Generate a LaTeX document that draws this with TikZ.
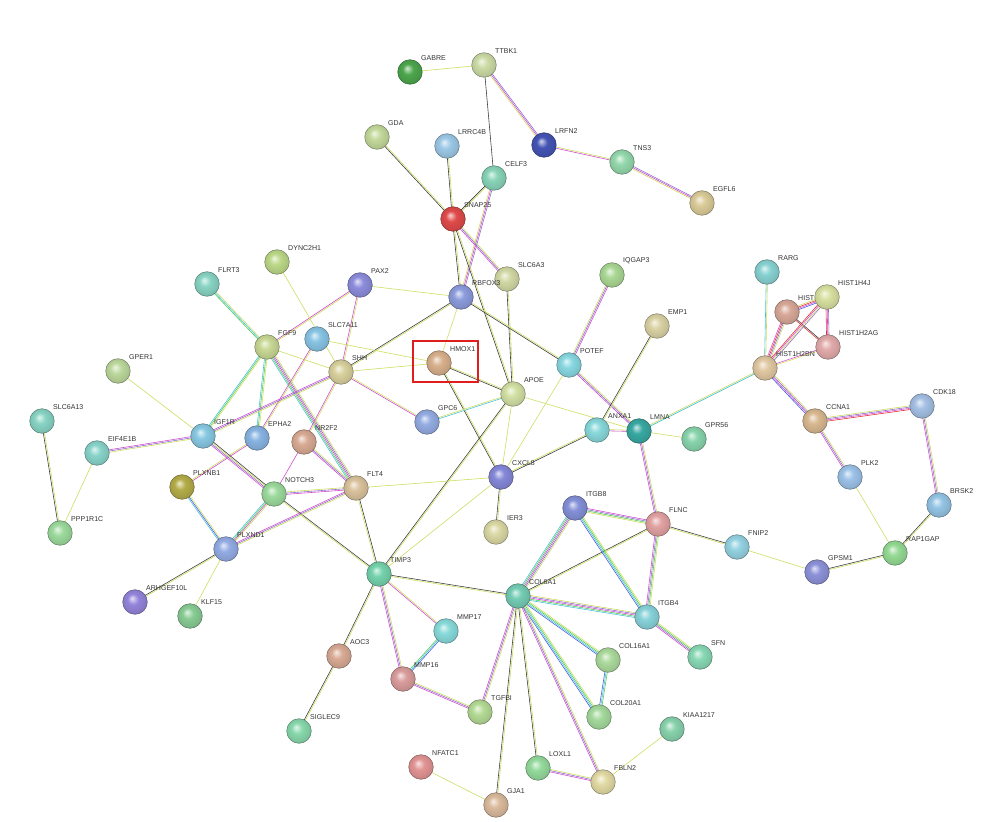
\documentclass[tikz,border=0pt]{standalone}
\usepackage{fontspec}
\newfontfamily\lf{Liberation Sans}
\usetikzlibrary{calc}
\pgfdeclarelayer{background}
\pgfsetlayers{background,main}
\colorlet{sb}{white}
\pgfdeclareradialshading[sb]{sball}{\pgfpoint{-6bp}{8bp}}{color(0bp)=(sb!25!white); color(11bp)=(sb); color(24bp)=(sb!90!black); color(36bp)=(sb!65!black)}
\definecolor{ctm}{RGB}{205,222,95}
\definecolor{cco}{RGB}{60,60,60}
\definecolor{cex}{RGB}{210,75,210}
\definecolor{cho}{RGB}{145,110,205}
\definecolor{cdb}{RGB}{70,195,220}
\definecolor{cnb}{RGB}{80,205,80}
\definecolor{cfu}{RGB}{225,50,50}
\definecolor{ccc}{RGB}{70,90,225}
\definecolor{boxred}{RGB}{225,30,30}
\tikzset{
  sphere/.style={circle, minimum size=21pt, inner sep=0pt, shade, shading=sball,
    /utils/exec={\definecolor{sb}{HTML}{#1}}, draw=sb!55!black, line width=0.35pt},
  lab/.style={anchor=west, inner sep=0pt, font=\lf\fontsize{6}{7}\selectfont, text=black!80},
  edge/.style={line width=0.5pt}
}
\newcommand\N[4]{\node[sphere=#4] (#1) at (#2) {};
  \node[lab] (#1-l) at ($(#1.center)+(11,-14)$) {#3};}
\newcommand\E[3]{%
  \foreach \cc [count=\ii] in {#3} {\xdef\nE{\ii}}%
  \foreach \cc [count=\ii] in {#3} {%
    \pgfmathsetmacro\off{(\ii-(\nE+1)/2)*1.05}%
    \draw[draw=\cc, edge] ($(#1.center)!\off pt!90:(#2.center)$) -- ($(#2.center)!\off pt!-90:(#1.center)$);
  }}
\begin{document}
\begin{tikzpicture}[x=0.03cm, y=-0.03cm]
\useasboundingbox (0,0) rectangle (1000,822);
% nodes
\N{GABRE}{410,72}{GABRE}{4CA64C}
\N{TTBK1}{484,65}{TTBK1}{CCDBA6}
\N{GDA}{377,137}{GDA}{C3D99A}
\N{LRRC4B}{447,146}{LRRC4B}{9CC8E6}
\N{LRFN2}{544,145}{LRFN2}{4454B4}
\N{CELF3}{494,178}{CELF3}{88D4B8}
\N{TNS3}{622,162}{TNS3}{94D8AC}
\N{EGFL6}{702,203}{EGFL6}{DACB98}
\N{SNAP25}{453,219}{SNAP25}{E04A4A}
\N{DYNC2H1}{277,262}{DYNC2H1}{BCD888}
\N{RARG}{767,272}{RARG}{88D2D2}
\N{FLRT3}{207,284}{FLRT3}{88D4C4}
\N{PAX2}{360,285}{PAX2}{8C8CDC}
\N{SLC6A3}{507,279}{SLC6A3}{D2D8A4}
\N{IQGAP3}{612,275}{IQGAP3}{AAD894}
\N{RBFOX3}{461,297}{RBFOX3}{8C9CDC}
\N{HIST1H4J}{827,297}{HIST1H4J}{D8E0A0}
\N{HIST}{787,312}{HIST}{D8A898}
\N{EMP1}{657,326}{EMP1}{DAD2A4}
\N{HIST1H2AG}{828,347}{HIST1H2AG}{E2AAAA}
\N{FGF9}{267,347}{FGF9}{C8D894}
\N{SLC7A11}{317,339}{SLC7A11}{88C4E4}
\N{HIST1H2BN}{765,368}{HIST1H2BN}{E0C8A2}
\N{POTEF}{569,365}{POTEF}{88D8E2}
\N{HMOX1}{439,363}{HMOX1}{D8B08C}
\N{SHH}{341,372}{SHH}{D8D09C}
\N{GPER1}{118,371}{GPER1}{BCD89C}
\N{APOE}{513,394}{APOE}{D2E0A4}
\N{CDK18}{922,406}{CDK18}{A4C0E4}
\N{CCNA1}{815,421}{CCNA1}{D8B890}
\N{SLC6A13}{42,421}{SLC6A13}{88D4C4}
\N{GPC6}{427,422}{GPC6}{94ACE2}
\N{ANXA1}{597,430}{ANXA1}{88D8DA}
\N{LMNA}{639,431}{LMNA}{38A8A2}
\N{GPR56}{694,439}{GPR56}{88D4AC}
\N{IGF1R}{203,436}{IGF1R}{88C8E2}
\N{EPHA2}{257,438}{EPHA2}{88B4E2}
\N{NR2F2}{304,442}{NR2F2}{D8AA94}
\N{EIF4E1B}{97,453}{EIF4E1B}{88D4CA}
\N{CXCL8}{501,477}{CXCL8}{8488D8}
\N{PLK2}{850,477}{PLK2}{9CC2E8}
\N{PLXNB1}{182,487}{PLXNB1}{B4AC48}
\N{FLT4}{356,488}{FLT4}{DAC29C}
\N{NOTCH3}{274,494}{NOTCH3}{9CDA9C}
\N{ITGB8}{575,508}{ITGB8}{8490D8}
\N{BRSK2}{939,505}{BRSK2}{94C4E4}
\N{FLNC}{658,524}{FLNC}{E2A2A2}
\N{IER3}{496,532}{IER3}{DAD8A4}
\N{PPP1R1C}{60,533}{PPP1R1C}{9CDA9C}
\N{FNIP2}{737,547}{FNIP2}{94D2E2}
\N{PLXND1}{226,549}{PLXND1}{94ACE4}
\N{RAP1GAP}{895,553}{RAP1GAP}{94DA94}
\N{GPSM1}{817,572}{GPSM1}{8C92D8}
\N{TIMP3}{379,574}{TIMP3}{74D2AC}
\N{COL6A1}{518,596}{COL6A1}{74CCB4}
\N{ARHGEF10L}{135,602}{ARHGEF10L}{9484DA}
\N{KLF15}{190,616}{KLF15}{88CC94}
\N{ITGB4}{647,617}{ITGB4}{88D2DA}
\N{SFN}{700,657}{SFN}{88D8B4}
\N{MMP17}{446,631}{MMP17}{88DADA}
\N{AOC3}{339,656}{AOC3}{D8AA94}
\N{COL16A1}{608,660}{COL16A1}{ACDA9C}
\N{MMP16}{403,679}{MMP16}{DA9C9C}
\N{TGFBI}{480,712}{TGFBI}{B4DA94}
\N{COL20A1}{599,717}{COL20A1}{A4DA9C}
\N{SIGLEC9}{299,731}{SIGLEC9}{88D8AC}
\N{KIAA1217}{672,729}{KIAA1217}{88D2AC}
\N{NFATC1}{421,767}{NFATC1}{E29494}
\N{LOXL1}{538,768}{LOXL1}{94DA9C}
\N{FBLN2}{603,782}{FBLN2}{E2DAA4}
\N{GJA1}{496,805}{GJA1}{DABA9C}
% highlight box
\draw[boxred, line width=1.3pt] (413,341) rectangle (478,382);
\begin{pgfonlayer}{background}
\fill[white] (0,0) rectangle (1000,822);
\E{GABRE}{TTBK1}{ctm}
\E{TTBK1}{CELF3}{cco}
\E{TTBK1}{LRFN2}{ctm,cex,cho}
\E{LRFN2}{TNS3}{cex,ctm}
\E{TNS3}{EGFL6}{ctm,cex,cho}
\E{GDA}{SNAP25}{cco,ctm}
\E{LRRC4B}{SNAP25}{cco,ctm}
\E{CELF3}{SNAP25}{cco,ctm}
\E{CELF3}{RBFOX3}{ctm,cex,cho}
\E{SNAP25}{SLC6A3}{cex,cho,ctm}
\E{SNAP25}{RBFOX3}{cco,ctm}
\E{SNAP25}{APOE}{cco,ctm}
\E{SLC6A3}{APOE}{cco,ctm}
\E{RBFOX3}{POTEF}{cco,ctm}
\E{RBFOX3}{PAX2}{ctm}
\E{RBFOX3}{HMOX1}{ctm}
\E{RBFOX3}{SHH}{cco,ctm}
\E{PAX2}{SHH}{cex,ctm}
\E{PAX2}{FGF9}{cex,ctm}
\E{DYNC2H1}{SHH}{ctm}
\E{FLRT3}{FGF9}{cnb,cdb,ctm}
\E{FGF9}{SHH}{ctm}
\E{FGF9}{IGF1R}{cdb,cnb,ctm}
\E{FGF9}{EPHA2}{cdb,cnb,ctm}
\E{FGF9}{FLT4}{cdb,cnb,cex,cho,ctm}
\E{SLC7A11}{HMOX1}{ctm}
\E{SLC7A11}{EPHA2}{cex,ctm}
\E{SHH}{IGF1R}{cex,cho,ctm}
\E{SHH}{NR2F2}{cex,ctm}
\E{SHH}{GPC6}{cex,ctm}
\E{SHH}{HMOX1}{ctm}
\E{HMOX1}{APOE}{cco,ctm}
\E{HMOX1}{CXCL8}{cco,ctm}
\E{GPC6}{APOE}{cdb,ctm}
\E{POTEF}{CXCL8}{ctm}
\E{POTEF}{IQGAP3}{cex,cho,ctm}
\E{POTEF}{LMNA}{cex,cho,ctm}
\E{EMP1}{ANXA1}{cco,ctm}
\E{APOE}{CXCL8}{ctm}
\E{APOE}{TIMP3}{cco,ctm}
\E{APOE}{LMNA}{ctm}
\E{CXCL8}{ANXA1}{cco,ctm}
\E{CXCL8}{FLT4}{ctm}
\E{CXCL8}{IER3}{cco,ctm}
\E{CXCL8}{TIMP3}{ctm}
\E{ANXA1}{LMNA}{cex,ctm}
\E{LMNA}{GPR56}{ctm}
\E{LMNA}{HIST1H2BN}{cdb,ctm}
\E{LMNA}{FLNC}{cex,cho,ctm}
\E{RARG}{HIST1H2BN}{cdb,ctm}
\E{HIST}{HIST1H4J}{ccc,cex,cfu,ctm}
\E{HIST}{HIST1H2AG}{cfu,cco}
\E{HIST}{HIST1H2BN}{cex,cfu,cho,ctm}
\E{HIST1H4J}{HIST1H2AG}{cfu,cex,cho}
\E{HIST1H4J}{HIST1H2BN}{cfu,cex,ctm,cho}
\E{HIST1H2AG}{HIST1H2BN}{cex,ctm}
\E{HIST1H2BN}{CCNA1}{ccc,cex,cho,ctm}
\E{CCNA1}{CDK18}{cfu,cex,cho,ctm}
\E{CCNA1}{PLK2}{cex,cho,ctm}
\E{CDK18}{BRSK2}{cex,cho,ctm}
\E{BRSK2}{RAP1GAP}{cco,ctm}
\E{PLK2}{RAP1GAP}{ctm}
\E{RAP1GAP}{GPSM1}{cco,ctm}
\E{GPSM1}{FNIP2}{ctm}
\E{FNIP2}{FLNC}{cco,ctm}
\E{FLNC}{ITGB8}{cex,cho,cnb,ctm}
\E{FLNC}{ITGB4}{cex,cho,cnb,ctm}
\E{FLNC}{COL6A1}{cco,ctm}
\E{ITGB8}{COL6A1}{cdb,cnb,cex,cho,ctm}
\E{ITGB8}{ITGB4}{ccc,cdb,cnb,ctm}
\E{COL6A1}{ITGB4}{cdb,cnb,cex,cho,ctm}
\E{ITGB4}{SFN}{cex,cho,cnb,ctm}
\E{COL6A1}{COL16A1}{ccc,cdb,cnb,ctm}
\E{COL6A1}{COL20A1}{ccc,cdb,cnb,ctm}
\E{COL16A1}{COL20A1}{ccc,cdb,cnb}
\E{COL6A1}{TGFBI}{cex,cho,ctm}
\E{COL6A1}{GJA1}{cco,ctm}
\E{COL6A1}{LOXL1}{cco,ctm}
\E{COL6A1}{FBLN2}{cex,cho,ctm}
\E{LOXL1}{FBLN2}{cex,cho,ctm}
\E{FBLN2}{KIAA1217}{ctm}
\E{NFATC1}{GJA1}{ctm}
\E{COL6A1}{TIMP3}{cco,ctm}
\E{TIMP3}{MMP17}{cex,ctm}
\E{TIMP3}{MMP16}{cex,cho,ctm}
\E{TIMP3}{AOC3}{cco,ctm}
\E{AOC3}{SIGLEC9}{cco,ctm}
\E{MMP16}{MMP17}{ccc,cdb,cnb}
\E{MMP16}{TGFBI}{cex,cho,ctm}
\E{TIMP3}{NOTCH3}{cco,ctm}
\E{TIMP3}{FLT4}{cco,ctm}
\E{NOTCH3}{FLT4}{cex,cho,ctm}
\E{NOTCH3}{PLXND1}{cdb,cnb,cex,ctm}
\E{FLT4}{PLXND1}{cex,cho,ctm}
\E{NR2F2}{NOTCH3}{cex}
\E{NR2F2}{FLT4}{cex,cho,ctm}
\E{PLXNB1}{PLXND1}{cdb,ccc,ctm}
\E{PLXNB1}{EPHA2}{cex,ctm}
\E{PLXND1}{ARHGEF10L}{cco,ctm}
\E{PLXND1}{KLF15}{ctm}
\E{IGF1R}{GPER1}{ctm}
\E{IGF1R}{EIF4E1B}{cex,cho,ctm}
\E{IGF1R}{NOTCH3}{cex,cho,ctm,cco}
\E{SLC6A13}{PPP1R1C}{cco,ctm}
\E{EIF4E1B}{PPP1R1C}{ctm}
\end{pgfonlayer}
\end{tikzpicture}
\end{document}
